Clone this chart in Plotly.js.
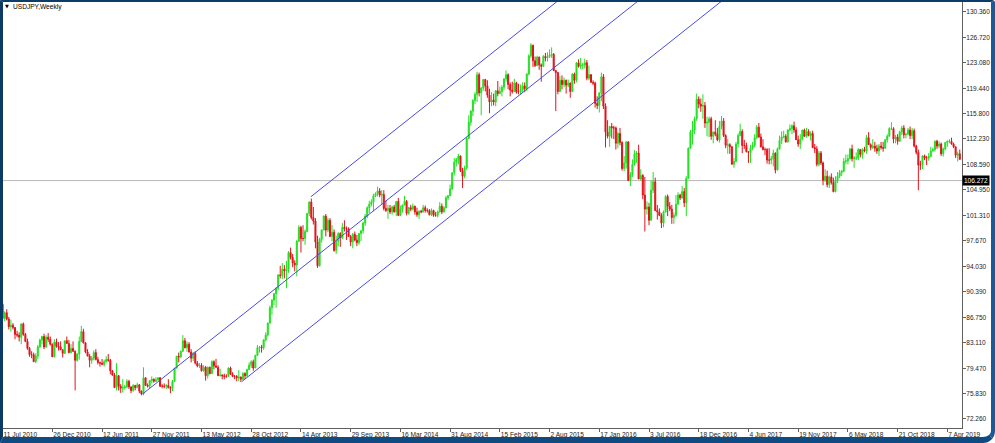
<!DOCTYPE html>
<html><head><meta charset="utf-8">
<script src="https://cdn.plot.ly/plotly-3.0.1.min.js"></script>
<style>
html,body{margin:0;padding:0;background:#fff;}
#wrap{position:relative;width:995px;height:443px;overflow:hidden;background:#fff;}
#chart{position:absolute;left:0;top:0;width:995px;height:443px;}
#frame{position:absolute;left:0;top:0;width:995px;height:443px;box-sizing:border-box;border-style:solid;
border-color:#0c3c6a #155c9c #0f4a80 #0c3a66;border-width:2px 4px 6px 3px;border-radius:0 3px 12px 0;pointer-events:none;}
</style></head>
<body><div id="wrap"><div id="chart"></div><div id="frame"></div></div>
<script>
// USDJPY weekly candles, first week = 11 Jul 2010 (index 0), one value per week
const openP = [
88.6,86.6,87.4,86.5,85.4,85.6,85.3,84.3,84.2,83.9,85.8,84.3,83.3,82.3,81.4,81.4,80.4,81.2,82.5,83.5,84.0,82.5,83.9,83.6,82.9,
81.1,83.2,82.6,82.5,82.1,81.6,83.4,83.0,81.7,82.3,81.9,80.6,81.5,83.3,84.7,83.1,81.8,81.2,80.6,80.9,81.7,80.7,80.3,80.2,80.0,80.4,80.7,80.6,79.1,78.5,76.7,78.4,76.9,76.6,76.7,76.8,77.6,76.8,76.3,77.0,76.7,77.1,76.2,75.8,78.1,77.0,76.9,77.7,77.9,77.6,77.8,78.1,
76.9,76.9,76.9,77.0,76.7,76.6,77.6,79.5,81.2,81.1,81.9,83.4,82.4,82.9,81.8,80.9,81.6,80.2,79.8,79.9,79.1,79.6,78.4,79.6,78.7,80.4,79.8,79.6,78.4,78.5,78.4,78.3,78.3,79.5,78.6,78.3,78.3,78.1,78.2,77.9,78.7,78.4,79.3,79.9,80.4,79.5,81.3,82.4,82.5,82.4,83.5,84.2,85.9,
88.1,89.2,90.1,90.9,92.8,92.7,93.6,93.4,93.6,96.0,95.3,94.5,94.2,97.6,99.6,98.0,98.0,99.0,101.6,103.2,101.0,100.5,97.5,94.1,97.9,99.2,101.2,99.2,100.6,98.3,98.9,96.3,97.6,98.7,98.1,99.6,99.4,99.4,98.3,97.5,98.6,97.8,97.4,98.7,99.1,100.2,101.2,102.4,102.9,103.2,104.1,104.4,
104.8,104.2,104.3,102.3,102.0,102.3,101.8,102.5,101.8,103.3,101.3,102.2,102.8,103.3,101.6,102.4,102.2,102.6,101.8,101.4,101.9,101.8,102.4,102.0,102.0,101.4,102.0,101.3,101.3,101.8,102.6,101.8,102.4,103.8,104.1,105.1,107.4,108.9,109.3,109.8,107.7,106.9,108.1,112.3,114.6,116.2,117.7,118.6,121.4,118.8,119.5,120.7,
119.8,118.5,117.5,117.8,117.5,119.1,118.7,119.0,119.6,120.8,121.4,120.0,119.2,119.0,120.2,118.9,118.9,119.2,119.8,119.4,121.5,124.1,125.6,123.4,122.7,123.9,122.8,122.6,124.0,123.8,124.0,124.2,124.3,122.0,121.7,119.0,120.6,120.0,120.6,119.9,120.2,119.0,121.5,120.6,123.1,122.6,122.8,122.8,123.1,120.9,121.4,120.3,
120.2,117.3,117.0,118.8,121.1,116.9,113.2,112.6,114.0,113.8,113.8,111.6,113.0,111.7,108.0,108.8,111.8,106.3,107.1,108.6,110.1,110.2,106.5,107.0,104.2,102.2,102.5,100.6,104.9,106.1,102.0,101.8,101.3,100.2,101.8,104.0,102.6,102.2,101.0,101.3,102.9,104.2,103.8,104.7,103.1,106.6,110.9,113.2,113.5,115.1,117.9,117.2,
116.9,117.0,114.5,114.6,115.1,112.6,113.2,112.9,112.1,114.0,114.8,112.7,111.3,111.4,111.1,108.6,109.0,111.5,112.7,113.3,111.3,111.3,110.4,110.3,110.9,111.3,112.4,113.9,112.5,111.1,110.7,110.7,109.2,109.2,109.4,110.2,107.8,110.8,112.0,112.5,112.6,111.8,113.5,113.7,114.1,113.5,112.1,111.5,112.2,113.5,112.6,113.3,
112.7,113.0,111.0,110.8,108.6,110.2,108.8,106.3,106.9,105.7,106.8,106.0,104.7,106.3,106.9,107.4,107.6,109.0,109.1,109.4,110.8,109.4,109.5,109.5,110.7,110.0,110.7,110.5,112.4,111.4,111.0,111.2,110.9,110.5,111.2,111.0,110.9,112.1,112.6,113.7,113.7,112.2,112.5,111.9,113.2,113.8,112.8,112.9,113.5,112.7,113.4,111.2,
110.3,108.5,108.5,109.8,109.5,109.5,109.7,110.5,110.7,111.9,111.2,111.5,110.1,110.8,111.7,111.9,111.9,111.5,111.1,109.9,110.1
];
const highP = [
88.9,87.6,87.9,86.8,86.4,85.9,85.3,84.8,84.6,85.9,86.0,84.5,83.7,82.5,81.9,81.7,81.6,82.8,83.7,84.1,84.4,84.2,84.5,84.0,83.0,
83.6,83.7,83.2,83.3,82.2,83.4,84.0,83.5,82.9,83.3,82.0,81.6,84.0,85.5,85.1,83.2,82.2,81.5,81.2,82.0,82.2,81.1,80.4,80.8,80.7,81.2,81.5,80.8,79.2,78.8,80.2,78.5,77.2,77.9,77.1,77.9,77.8,76.9,77.2,77.1,77.4,77.2,76.3,79.6,78.2,77.3,77.8,78.3,78.0,78.2,78.2,78.2,
77.2,77.3,77.2,77.9,76.9,77.8,79.5,81.2,81.7,82.0,84.2,83.8,83.3,83.2,82.2,81.8,81.9,80.5,80.2,80.2,79.9,79.8,79.7,79.7,80.6,80.6,80.8,79.9,79.4,78.6,78.7,78.6,79.6,79.7,78.9,78.5,78.5,79.2,78.3,78.9,78.9,79.4,80.3,80.6,80.7,81.4,82.8,82.6,82.8,83.6,84.6,86.0,88.4,
89.3,90.2,91.0,92.9,94.1,94.5,94.2,94.8,96.2,96.7,95.8,94.9,97.8,99.9,99.8,99.9,99.3,101.6,103.3,103.7,102.5,100.9,98.4,98.1,99.3,101.3,101.5,100.9,100.9,99.9,99.3,98.4,98.9,98.9,100.2,100.6,99.7,99.6,98.5,98.8,99.0,98.5,98.8,99.2,100.4,101.5,102.6,103.4,103.6,104.4,104.6,105.4,
105.2,104.9,104.9,103.4,102.8,102.8,102.7,102.8,103.3,103.8,102.7,102.8,104.1,103.5,102.5,102.8,103.0,102.7,102.4,102.0,102.1,102.8,102.7,102.3,102.2,102.3,102.1,101.8,102.0,103.2,103.0,102.6,104.1,104.2,105.7,107.4,109.5,109.5,110.1,109.8,108.1,108.4,112.5,115.6,116.3,117.9,118.9,121.8,121.7,119.6,120.8,120.8,
120.6,119.4,118.9,118.7,119.2,120.5,119.7,119.9,120.9,122.0,121.6,120.3,120.4,120.8,120.4,120.1,120.0,120.3,120.3,121.6,124.3,125.9,125.7,124.0,124.1,124.0,123.0,124.2,124.5,124.6,125.0,125.3,124.5,122.0,121.8,121.2,121.3,121.0,120.7,120.7,120.3,121.6,121.7,123.2,123.6,123.8,123.1,123.7,123.5,122.7,121.5,120.6,
120.4,118.3,118.9,121.7,121.5,117.3,114.9,114.1,114.5,114.1,114.0,113.2,113.8,111.9,109.8,111.9,111.9,107.5,109.3,110.6,110.5,111.4,107.9,107.2,106.8,103.3,103.1,106.3,107.5,106.7,102.8,102.3,101.6,102.0,104.2,104.3,103.2,102.8,101.7,104.2,104.6,104.4,105.5,105.2,106.9,111.0,113.5,114.8,115.4,118.7,118.3,118.0,
118.6,117.5,115.4,115.4,115.4,113.3,114.9,113.8,114.8,115.5,115.2,112.9,112.2,111.6,111.2,109.5,111.8,113.0,114.4,113.6,112.1,111.7,110.5,111.4,111.8,112.9,114.2,114.5,113.0,112.2,111.0,110.9,110.9,109.8,110.7,110.3,111.0,112.7,113.3,113.4,112.9,113.6,114.3,114.3,114.7,113.9,112.7,112.9,113.5,113.7,113.8,113.6,
113.3,113.4,111.5,111.2,110.5,110.5,109.0,107.9,107.7,107.0,107.3,106.7,106.9,107.5,107.8,107.8,109.5,110.0,110.0,110.9,111.4,109.8,110.3,110.9,110.8,110.9,111.1,112.8,113.2,111.6,112.2,111.8,111.4,111.5,111.8,111.8,112.2,112.9,113.9,114.6,113.9,112.8,112.9,113.4,114.1,114.2,113.1,113.8,114.0,113.8,113.7,111.4,
110.7,109.1,109.9,110.0,109.8,110.2,111.1,111.0,112.0,112.1,111.9,111.7,111.0,111.8,112.0,112.2,112.4,111.7,111.1,110.4,110.7
];
const lowP = [
86.3,86.2,86.3,85.0,84.7,85.0,83.6,83.9,83.3,82.9,84.1,83.2,82.1,81.1,80.9,80.4,80.2,80.8,82.4,82.9,82.2,82.4,83.2,82.7,81.1,
81.0,82.4,82.0,82.1,81.0,81.5,83.0,81.6,81.6,81.8,76.3,80.4,80.7,83.2,83.0,81.6,81.2,79.6,80.1,80.6,80.6,80.0,79.7,80.0,79.7,80.3,80.4,78.6,78.4,76.7,76.3,76.3,75.95,76.0,76.4,76.6,76.5,75.9,76.1,76.3,76.6,75.9,75.6,75.6,77.0,76.7,76.6,77.3,77.4,77.5,77.7,76.8,
76.6,76.6,76.5,76.6,75.9,76.2,77.5,79.4,80.3,80.9,81.8,82.3,81.8,81.7,80.3,80.5,80.0,79.6,79.5,79.0,79.0,77.7,78.0,78.6,78.7,79.3,79.6,78.4,78.3,77.9,77.9,78.1,78.3,78.5,78.2,77.9,77.6,77.6,77.5,77.8,77.9,78.2,79.2,79.5,79.1,79.5,81.2,81.7,81.7,82.1,83.3,84.0,85.9,
87.1,88.5,88.1,90.6,92.3,92.2,92.3,90.9,93.1,95.0,93.9,93.3,92.6,97.5,96.0,97.6,97.1,98.9,101.2,100.7,100.0,96.6,93.8,94.0,97.4,99.2,98.3,98.9,98.2,97.6,96.1,95.8,96.9,96.8,97.9,99.0,97.8,98.2,96.9,96.6,97.6,96.9,97.1,97.6,98.7,99.8,100.9,101.6,102.6,101.9,103.9,104.0,
103.9,102.9,102.0,101.8,100.8,101.5,101.4,101.7,101.2,101.2,101.2,101.7,102.7,101.3,101.4,101.9,102.0,101.4,101.1,100.8,101.6,101.7,101.7,101.7,101.3,101.2,101.1,101.1,101.0,101.7,101.5,101.7,102.3,103.5,104.1,104.9,107.0,108.3,108.6,107.5,105.2,106.6,107.8,112.2,114.1,115.5,117.2,117.5,118.3,115.6,119.1,119.0,
118.1,115.9,116.9,117.0,116.9,118.3,118.6,118.3,119.2,120.4,119.3,118.3,118.7,118.9,118.7,118.6,118.5,118.9,118.9,119.1,121.3,123.8,122.5,122.5,122.6,122.1,120.4,122.5,123.3,123.3,123.8,123.8,121.9,116.2,118.6,118.9,119.3,119.6,118.7,119.6,118.1,118.9,120.1,120.3,122.4,122.2,122.2,122.3,120.6,120.6,120.3,119.9,
116.7,116.5,116.0,117.6,116.5,111.0,112.3,111.1,112.3,112.2,110.7,110.9,111.3,107.7,107.6,108.0,106.2,105.5,106.8,108.4,108.8,106.5,106.3,103.6,99.0,101.4,99.9,100.6,104.5,101.9,100.7,101.2,99.5,99.6,101.7,101.2,101.9,100.1,100.1,101.1,102.8,103.5,103.7,102.5,101.2,106.5,110.8,111.4,112.9,114.8,116.6,116.1,
115.1,113.8,112.6,112.5,112.1,111.6,112.6,111.9,111.7,113.6,112.5,110.9,110.1,110.1,108.6,108.1,109.0,111.0,112.7,110.2,110.8,110.3,108.8,108.8,110.6,111.0,112.2,112.4,111.0,110.6,109.9,108.7,108.6,108.6,108.3,107.3,107.7,110.7,111.5,112.3,111.7,111.7,113.3,112.9,113.1,112.1,111.1,110.8,112.0,112.5,112.4,112.6,
112.0,110.9,110.2,108.3,108.3,108.5,105.6,106.1,105.3,105.2,105.7,104.6,104.6,105.9,106.6,106.9,107.5,108.6,108.6,109.3,109.0,108.1,109.2,109.2,109.6,109.4,110.3,110.1,111.4,110.6,110.8,110.4,110.1,109.8,110.7,110.4,110.8,111.7,112.6,113.5,111.6,111.6,111.4,111.8,112.8,112.3,112.3,112.8,112.2,112.2,111.0,110.0,
104.9,107.8,107.9,109.2,108.5,109.1,109.7,110.4,110.4,110.8,110.9,109.8,109.7,110.6,111.1,111.6,111.4,110.9,109.5,109.0,109.3
];
const closeP = [
86.6,87.4,86.5,85.4,85.6,85.3,84.3,84.2,83.9,85.8,84.3,83.3,82.3,81.4,81.4,80.4,81.2,82.5,83.5,84.0,82.5,83.9,83.6,82.9,81.1,
83.2,82.6,82.5,82.1,81.6,83.4,83.0,81.7,82.3,81.9,80.6,81.5,83.3,84.7,83.1,81.8,81.2,80.6,80.9,81.7,80.7,80.3,80.2,80.0,80.4,80.7,80.6,79.1,78.5,76.7,78.4,76.9,76.6,76.7,76.8,77.6,76.8,76.3,77.0,76.7,77.1,76.2,75.8,78.1,77.0,76.9,77.7,77.9,77.6,77.8,78.1,76.9,
76.9,76.9,77.0,76.7,76.6,77.6,79.5,81.2,81.1,81.9,83.4,82.4,82.9,81.8,80.9,81.6,80.2,79.8,79.9,79.1,79.6,78.4,79.6,78.7,80.4,79.8,79.6,78.4,78.5,78.4,78.3,78.3,79.5,78.6,78.3,78.3,78.1,78.2,77.9,78.7,78.4,79.3,79.9,80.4,79.5,81.3,82.4,82.5,82.4,83.5,84.2,85.9,88.1,
89.2,90.1,90.9,92.8,92.7,93.6,93.4,93.6,96.0,95.3,94.5,94.2,97.6,99.6,98.0,98.0,99.0,101.6,103.2,101.0,100.5,97.5,94.1,97.9,99.2,101.2,99.2,100.6,98.3,98.9,96.3,97.6,98.7,98.1,99.6,99.4,99.4,98.3,97.5,98.6,97.8,97.4,98.7,99.1,100.2,101.2,102.4,102.9,103.2,104.1,104.4,104.8,
104.2,104.3,102.3,102.0,102.3,101.8,102.5,101.8,103.3,101.3,102.2,102.8,103.3,101.6,102.4,102.2,102.6,101.8,101.4,101.9,101.8,102.4,102.0,102.0,101.4,102.0,101.3,101.3,101.8,102.6,101.8,102.4,103.8,104.1,105.1,107.4,108.9,109.3,109.8,107.7,106.9,108.1,112.3,114.6,116.2,117.7,118.6,121.4,118.8,119.5,120.7,119.8,
118.5,117.5,117.8,117.5,119.1,118.7,119.0,119.6,120.8,121.4,120.0,119.2,119.0,120.2,118.9,118.9,119.2,119.8,119.4,121.5,124.1,125.6,123.4,122.7,123.9,122.8,122.6,124.0,123.8,124.0,124.2,124.3,122.0,121.7,119.0,120.6,120.0,120.6,119.9,120.2,119.0,121.5,120.6,123.1,122.6,122.8,122.8,123.1,120.9,121.4,120.3,120.2,
117.3,117.0,118.8,121.1,116.9,113.2,112.6,114.0,113.8,113.8,111.6,113.0,111.7,108.0,108.8,111.8,106.3,107.1,108.6,110.1,110.2,106.5,107.0,104.2,102.2,102.5,100.6,104.9,106.1,102.0,101.8,101.3,100.2,101.8,104.0,102.6,102.2,101.0,101.3,102.9,104.2,103.8,104.7,103.1,106.6,110.9,113.2,113.5,115.1,117.9,117.2,116.9,
117.0,114.5,114.6,115.1,112.6,113.2,112.9,112.1,114.0,114.8,112.7,111.3,111.4,111.1,108.6,109.0,111.5,112.7,113.3,111.3,111.3,110.4,110.3,110.9,111.3,112.4,113.9,112.5,111.1,110.7,110.7,109.2,109.2,109.4,110.2,107.8,110.8,112.0,112.5,112.6,111.8,113.5,113.7,114.1,113.5,112.1,111.5,112.2,113.5,112.6,113.3,112.7,
113.0,111.0,110.8,108.6,110.2,108.8,106.3,106.9,105.7,106.8,106.0,104.7,106.3,106.9,107.4,107.6,109.0,109.1,109.4,110.8,109.4,109.5,109.5,110.7,110.0,110.7,110.5,112.4,111.4,111.0,111.2,110.9,110.5,111.2,111.0,110.9,112.1,112.6,113.7,113.7,112.2,112.5,111.9,113.2,113.8,112.8,112.9,113.5,112.7,113.4,111.2,110.3,
108.5,108.5,109.8,109.5,109.5,109.7,110.5,110.7,111.9,111.2,111.5,110.1,110.8,111.7,111.9,111.9,111.5,111.1,109.9,110.1,109.3
];

// x tick labels every 24 weeks
const xTickWeeks = [0,24,48,72,96,120,144,168,192,216,240,264,288,312,336,360,384,408,432,456];
const xTickText = ["11 Jul 2010","26 Dec 2010","12 Jun 2011","27 Nov 2011","13 May 2012","28 Oct 2012","14 Apr 2013","29 Sep 2013","16 Mar 2014","31 Aug 2014","15 Feb 2015","2 Aug 2015","17 Jan 2016","3 Jul 2016","18 Dec 2016","4 Jun 2017","19 Nov 2017","6 May 2018","21 Oct 2018","7 Apr 2019"];
const yTickVals = [72.26,75.83,79.47,83.11,86.75,90.39,94.03,97.67,101.31,104.95,108.59,112.23,115.80,119.44,123.08,126.72,130.36];
const yTickText = ["72.260","75.830","79.470","83.110","86.750","90.390","94.030","97.670","101.310","104.950","108.590","112.230","115.800","119.440","123.080","126.720","130.360"];

// equidistant channel (week index, price) anchors and far ends
const chanMidX = [67.6, 319.8],  chanMidY = [75.80, 135.0];
const chanLowX = [115.4, 360.2], chanLowY = [77.55, 135.0];
const chanUpX  = [148.8, 281.0], chanUpY  = [103.97, 135.0];
const priceLine = 106.272;

const weekIdx = closeP.map((_, i) => i);

const chanLine = {color:'#4a4ae0', width:1};
const traces = [
  {type:'candlestick', x:weekIdx, open:openP, high:highP, low:lowP, close:closeP,
   increasing:{line:{color:'#22e022', width:1}, fillcolor:'#22e022'},
   decreasing:{line:{color:'#e3121b', width:1}, fillcolor:'#e3121b'},
   whiskerwidth:0, hoverinfo:'skip', showlegend:false},
  {type:'scatter', mode:'lines', x:chanMidX, y:chanMidY, line:chanLine, hoverinfo:'skip', showlegend:false},
  {type:'scatter', mode:'lines', x:chanLowX, y:chanLowY, line:chanLine, hoverinfo:'skip', showlegend:false},
  {type:'scatter', mode:'lines', x:chanUpX,  y:chanUpY,  line:chanLine, hoverinfo:'skip', showlegend:false}
];

const fam = 'Liberation Sans, Arial, sans-serif';
const layout = {
  width:995, height:443,
  margin:{l:0, r:33, t:0, b:15, pad:0},
  paper_bgcolor:'rgba(0,0,0,0)', plot_bgcolor:'#ffffff',
  showlegend:false,
  xaxis:{range:[-1.255, 463.07], rangeslider:{visible:false}, showgrid:false, zeroline:false,
    showline:true, linecolor:'#606060', linewidth:1, ticks:'outside', ticklen:3, tickcolor:'#606060',
    tickvals:xTickWeeks, ticktext:xTickText, ticklabelposition:'outside right',
    tickfont:{family:fam, size:6.6, color:'#1a1a1a'}, fixedrange:true},
  yaxis:{range:[70.93, 132.07], side:'right', showgrid:false, zeroline:false,
    showline:true, linecolor:'#606060', linewidth:1, ticks:'outside', ticklen:3, tickcolor:'#606060',
    ticklabelstandoff:-1,
    tickvals:yTickVals, ticktext:yTickText, tickfont:{family:fam, size:6.5, color:'#1a1a1a'}, fixedrange:true},
  shapes:[{type:'line', xref:'paper', x0:0, x1:1, yref:'y', y0:priceLine, y1:priceLine,
    line:{color:'#b8b8b8', width:1}, layer:'below'}],
  annotations:[
    {xref:'paper', yref:'paper', x:0, y:1, xanchor:'left', yanchor:'top', xshift:3, yshift:-1,
     text:'▼', showarrow:false, font:{family:'DejaVu Sans', size:5, color:'#000'}},
    {xref:'paper', yref:'paper', x:0, y:1, xanchor:'left', yanchor:'top', xshift:11, yshift:-1,
     text:'USDJPY,Weekly', showarrow:false, font:{family:fam, size:6.6, color:'#000'}},
    {xref:'paper', yref:'y', x:1, y:priceLine, xanchor:'left', yanchor:'middle', xshift:0,
     text:priceLine.toFixed(3), showarrow:false, bgcolor:'#000000', borderpad:1,
     font:{family:fam, size:6.5, color:'#ffffff'}}
  ]
};
Plotly.newPlot('chart', traces, layout, {staticPlot:true, displayModeBar:false});
</script>
</body></html>
